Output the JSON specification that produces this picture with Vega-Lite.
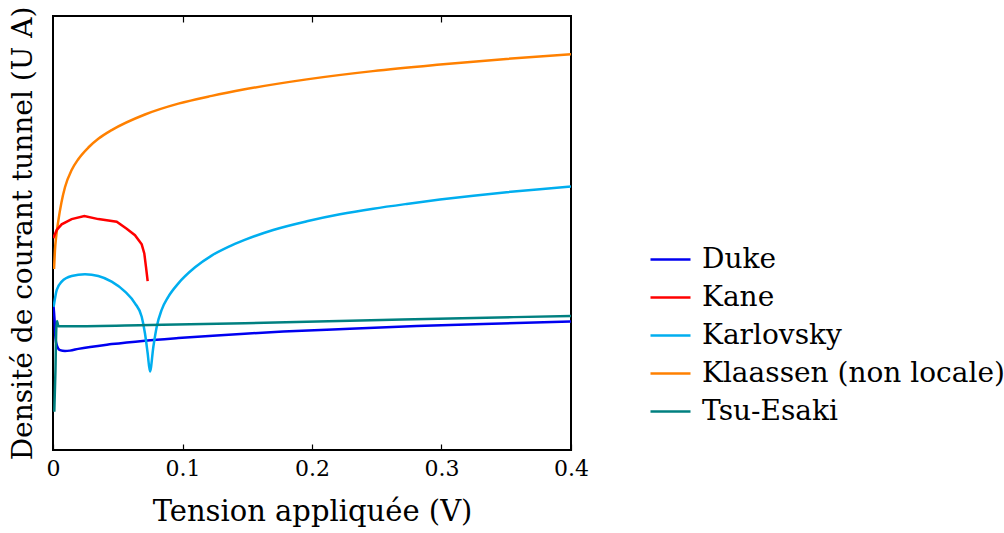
{
  "$schema": "https://vega.github.io/schema/vega-lite/v6.json",
  "autosize": {"type": "none"},
  "width": 518,
  "height": 434,
  "padding": {"left": 53, "top": 16, "right": 433, "bottom": 83},
  "background": "white",
  "config": {
    "view": {"stroke": "black", "strokeWidth": 2},
    "font": "DejaVu Serif, serif",
    "axis": {"domain": false, "grid": false, "tickColor": "black", "labelColor": "black", "titleColor": "black", "titleFontWeight": "normal", "labelFont": "DejaVu Serif, serif", "titleFont": "DejaVu Serif, serif"},
    "legend": {"labelFont": "DejaVu Serif, serif"}
  },
  "datasets": {
    "curves": [
      {"s": "Duke", "x": 0.0004, "y": 33.2},
      {"s": "Duke", "x": 0.0012, "y": 30.0},
      {"s": "Duke", "x": 0.0019, "y": 25.8},
      {"s": "Duke", "x": 0.0031, "y": 24.0},
      {"s": "Duke", "x": 0.0054, "y": 23.0},
      {"s": "Duke", "x": 0.0093, "y": 22.8},
      {"s": "Duke", "x": 0.0131, "y": 22.9},
      {"s": "Duke", "x": 0.0195, "y": 23.3},
      {"s": "Duke", "x": 0.0453, "y": 24.4},
      {"s": "Duke", "x": 0.071, "y": 25.2},
      {"s": "Duke", "x": 0.0968, "y": 25.8},
      {"s": "Duke", "x": 0.1264, "y": 26.4},
      {"s": "Duke", "x": 0.148, "y": 26.8},
      {"s": "Duke", "x": 0.1778, "y": 27.3},
      {"s": "Duke", "x": 0.2293, "y": 27.95},
      {"s": "Duke", "x": 0.2808, "y": 28.55},
      {"s": "Duke", "x": 0.3323, "y": 29.05},
      {"s": "Duke", "x": 0.4, "y": 29.6},
      {"s": "Kane", "x": 0.0002, "y": 48.8},
      {"s": "Kane", "x": 0.0029, "y": 50.7},
      {"s": "Kane", "x": 0.0067, "y": 52.0},
      {"s": "Kane", "x": 0.0144, "y": 53.2},
      {"s": "Kane", "x": 0.0242, "y": 53.9},
      {"s": "Kane", "x": 0.035, "y": 53.2},
      {"s": "Kane", "x": 0.0492, "y": 52.6},
      {"s": "Kane", "x": 0.0569, "y": 51.0},
      {"s": "Kane", "x": 0.0633, "y": 49.5},
      {"s": "Kane", "x": 0.0685, "y": 47.4},
      {"s": "Kane", "x": 0.0705, "y": 45.3},
      {"s": "Kane", "x": 0.0718, "y": 42.2},
      {"s": "Kane", "x": 0.0731, "y": 38.9},
      {"s": "Karlovsky", "x": 0.0005, "y": 33.0},
      {"s": "Karlovsky", "x": 0.0029, "y": 36.9},
      {"s": "Karlovsky", "x": 0.0067, "y": 38.8},
      {"s": "Karlovsky", "x": 0.0144, "y": 40.1},
      {"s": "Karlovsky", "x": 0.0247, "y": 40.5},
      {"s": "Karlovsky", "x": 0.035, "y": 40.1},
      {"s": "Karlovsky", "x": 0.0453, "y": 38.8},
      {"s": "Karlovsky", "x": 0.0556, "y": 36.5},
      {"s": "Karlovsky", "x": 0.0633, "y": 33.8},
      {"s": "Karlovsky", "x": 0.0685, "y": 30.7},
      {"s": "Karlovsky", "x": 0.071, "y": 26.9},
      {"s": "Karlovsky", "x": 0.0731, "y": 22.3},
      {"s": "Karlovsky", "x": 0.0749, "y": 18.1},
      {"s": "Karlovsky", "x": 0.0775, "y": 23.8},
      {"s": "Karlovsky", "x": 0.0801, "y": 28.4},
      {"s": "Karlovsky", "x": 0.0839, "y": 32.3},
      {"s": "Karlovsky", "x": 0.089, "y": 35.3},
      {"s": "Karlovsky", "x": 0.0968, "y": 38.4},
      {"s": "Karlovsky", "x": 0.1097, "y": 42.1},
      {"s": "Karlovsky", "x": 0.1225, "y": 44.8},
      {"s": "Karlovsky", "x": 0.1354, "y": 46.8},
      {"s": "Karlovsky", "x": 0.148, "y": 48.4},
      {"s": "Karlovsky", "x": 0.17, "y": 50.7},
      {"s": "Karlovsky", "x": 0.196, "y": 52.7},
      {"s": "Karlovsky", "x": 0.2216, "y": 54.3},
      {"s": "Karlovsky", "x": 0.2473, "y": 55.6},
      {"s": "Karlovsky", "x": 0.2731, "y": 56.7},
      {"s": "Karlovsky", "x": 0.2988, "y": 57.7},
      {"s": "Karlovsky", "x": 0.3246, "y": 58.6},
      {"s": "Karlovsky", "x": 0.3503, "y": 59.4},
      {"s": "Karlovsky", "x": 0.376, "y": 60.1},
      {"s": "Karlovsky", "x": 0.4, "y": 60.7},
      {"s": "Klaassen (non locale)", "x": 0.0008, "y": 41.7},
      {"s": "Klaassen (non locale)", "x": 0.0015, "y": 46.0},
      {"s": "Klaassen (non locale)", "x": 0.0025, "y": 49.3},
      {"s": "Klaassen (non locale)", "x": 0.0041, "y": 52.8},
      {"s": "Klaassen (non locale)", "x": 0.0065, "y": 57.0},
      {"s": "Klaassen (non locale)", "x": 0.0093, "y": 60.6},
      {"s": "Klaassen (non locale)", "x": 0.0144, "y": 64.5},
      {"s": "Klaassen (non locale)", "x": 0.0195, "y": 67.0},
      {"s": "Klaassen (non locale)", "x": 0.0273, "y": 69.7},
      {"s": "Klaassen (non locale)", "x": 0.035, "y": 71.7},
      {"s": "Klaassen (non locale)", "x": 0.0453, "y": 73.7},
      {"s": "Klaassen (non locale)", "x": 0.071, "y": 77.3},
      {"s": "Klaassen (non locale)", "x": 0.0968, "y": 79.8},
      {"s": "Klaassen (non locale)", "x": 0.1226, "y": 81.6},
      {"s": "Klaassen (non locale)", "x": 0.148, "y": 83.1},
      {"s": "Klaassen (non locale)", "x": 0.196, "y": 85.4},
      {"s": "Klaassen (non locale)", "x": 0.247, "y": 87.3},
      {"s": "Klaassen (non locale)", "x": 0.299, "y": 88.8},
      {"s": "Klaassen (non locale)", "x": 0.35, "y": 90.1},
      {"s": "Klaassen (non locale)", "x": 0.4, "y": 91.2},
      {"s": "Tsu-Esaki", "x": 0.001, "y": 8.8},
      {"s": "Tsu-Esaki", "x": 0.0019, "y": 18.4},
      {"s": "Tsu-Esaki", "x": 0.0025, "y": 27.6},
      {"s": "Tsu-Esaki", "x": 0.0031, "y": 29.7},
      {"s": "Tsu-Esaki", "x": 0.0037, "y": 29.0},
      {"s": "Tsu-Esaki", "x": 0.0042, "y": 28.5},
      {"s": "Tsu-Esaki", "x": 0.0131, "y": 28.5},
      {"s": "Tsu-Esaki", "x": 0.0749, "y": 28.8},
      {"s": "Tsu-Esaki", "x": 0.148, "y": 29.2},
      {"s": "Tsu-Esaki", "x": 0.2293, "y": 29.8},
      {"s": "Tsu-Esaki", "x": 0.3066, "y": 30.3},
      {"s": "Tsu-Esaki", "x": 0.4, "y": 30.9}
    ]
  },
  "data": {"name": "curves"},
  "layer": [
    {
      "transform": [{"filter": "datum.s !== 'Kane'"}],
      "mark": {"type": "line", "interpolate": "monotone", "strokeWidth": 2.5, "clip": true},
      "encoding": {
        "x": {"field": "x", "type": "quantitative", "scale": {"domain": [0, 0.4], "nice": false},
          "axis": {"orient": "bottom", "values": [0, 0.1, 0.2, 0.3, 0.4], "format": "~g", "tickSize": -6, "tickWidth": 1.2, "labelPadding": 14, "labelFontSize": 22, "labelFlush": false, "title": "Tension appliquée (V)", "titleFontSize": 29, "titlePadding": 18}},
        "y": {"field": "y", "type": "quantitative", "scale": {"domain": [0, 100], "nice": false},
          "axis": {"labels": false, "ticks": false, "title": "Densité de courant tunnel (U A)", "titleFontSize": 28, "titlePadding": 16}},
        "color": {"field": "s", "type": "nominal",
          "scale": {"domain": ["Duke", "Kane", "Karlovsky", "Klaassen (non locale)", "Tsu-Esaki"], "range": ["#0000f0", "#ff0000", "#00aeef", "#ff8000", "#008080"]},
          "legend": {"title": null, "orient": "none", "legendX": 596, "legendY": 222, "symbolType": "stroke", "symbolSize": 1600, "symbolStrokeWidth": 2.5, "labelFontSize": 28, "labelColor": "black", "rowPadding": 2, "labelOffset": 10, "labelLimit": 400}}
      }
    },
    {
      "transform": [{"filter": "datum.s === 'Kane'"}],
      "mark": {"type": "line", "interpolate": "linear", "strokeWidth": 2.5, "clip": true},
      "encoding": {
        "x": {"field": "x", "type": "quantitative", "scale": {"domain": [0, 0.4], "nice": false},
          "axis": {"orient": "top", "values": [0.1, 0.2, 0.3], "labels": false, "tickSize": -6, "tickWidth": 1.2, "title": null}},
        "y": {"field": "y", "type": "quantitative"},
        "color": {"field": "s", "type": "nominal"}
      }
    }
  ],
  "resolve": {"axis": {"x": "independent"}}
}
